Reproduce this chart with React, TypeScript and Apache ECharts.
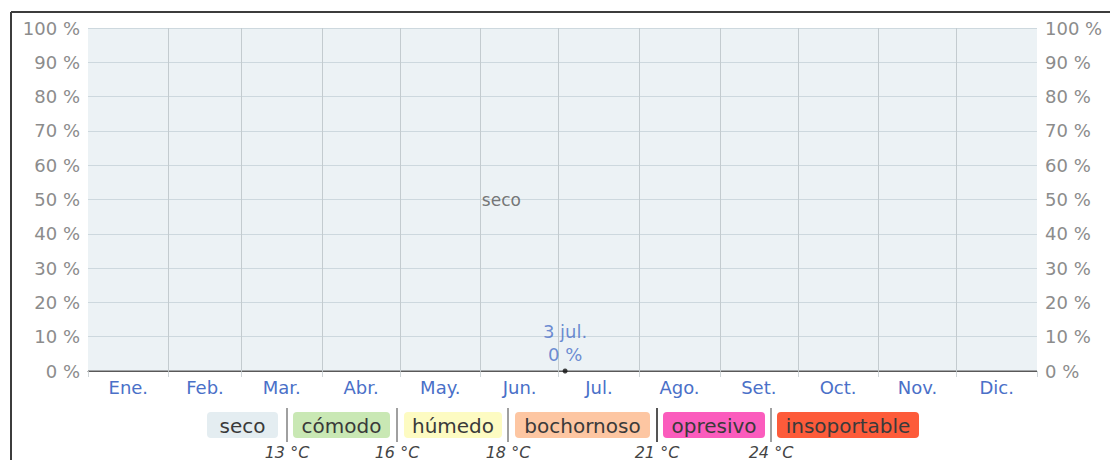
import React, { useEffect, useRef } from "react";
import * as echarts from "echarts";

// ---- data ----
const months = ["Ene.", "Feb.", "Mar.", "Abr.", "May.", "Jun.", "Jul.", "Ago.", "Set.", "Oct.", "Nov.", "Dic."];
const monthDays = [31, 28, 31, 30, 31, 30, 31, 31, 30, 31, 30, 31];
const sampleDays = [0, 365];
const secoShare = [100, 100];
const muggyShare = [0, 0];
const highlightDay = 183.5;
const highlightText = "3 jul.";
const highlightValue = 0;
const secoLabelDay = 159;
const yTicks = { min: 0, max: 100, interval: 10 };
const levels = ["seco", "cómodo", "húmedo", "bochornoso", "opresivo", "insoportable"];
const levelColors = ["#e4edf1", "#c9e8b4", "#fdfbc2", "#fdc6a2", "#fb5cbd", "#fd5b3a"];
const thresholds = ["13 °C", "16 °C", "18 °C", "21 °C", "24 °C"];

// ---- layout (not data) ----
const boxSpans = [[207, 278], [293, 390], [404, 502], [515, 650], [663, 765], [777, 919]];
const sepX = [287, 397, 508, 657, 771];
const sepColors = ["#a0a0a0", "#a0a0a0", "#a0a0a0", "#555", "#a0a0a0"];
const FONT = "DejaVu Sans";

export default function App() {
  const ref = useRef<HTMLDivElement>(null);
  useEffect(() => {
    if (!ref.current) return;
    const chart = echarts.init(ref.current, null, { renderer: "svg" });

    const monthStarts: number[] = [];
    let acc = 0;
    monthDays.forEach((d) => { monthStarts.push(acc); acc += d; });
    monthStarts.push(acc);
    const midDays = monthDays.map((d, i) => monthStarts[i] + d / 2);

    const legend: any[] = [];
    levels.forEach((name, i) => {
      const [x0, x1] = boxSpans[i];
      legend.push({
        type: "rect",
        shape: { x: x0, y: 412, width: x1 - x0, height: 26, r: 4 },
        style: { fill: levelColors[i] },
        silent: true,
      });
      legend.push({
        type: "text",
        x: (x0 + x1) / 2,
        y: 426,
        style: {
          text: name, fill: "#3a3a3a", font: `20px "${FONT}"`,
          align: "center", verticalAlign: "middle",
        },
        silent: true,
      });
    });
    thresholds.forEach((t, i) => {
      legend.push({
        type: "line",
        shape: { x1: sepX[i], y1: 408, x2: sepX[i], y2: 442 },
        style: { stroke: sepColors[i], lineWidth: 2 },
        silent: true,
      });
      legend.push({
        type: "text",
        x: sepX[i],
        y: 452,
        style: {
          text: t, fill: "#444", font: `italic 16px "${FONT}"`,
          align: "center", verticalAlign: "middle",
        },
        silent: true,
      });
    });

    const yAxisBase = (pos: "left" | "right", split: boolean) => ({
      type: "value",
      position: pos,
      min: yTicks.min,
      max: yTicks.max,
      interval: yTicks.interval,
      axisLine: { show: false },
      axisTick: { show: false },
      axisLabel: {
        formatter: "{value} %", color: "#8c8c8c", fontSize: 18, fontFamily: FONT, margin: 8,
      },
      splitLine: { show: split, lineStyle: { color: "#d0d8dc", width: 1 } },
    });

    chart.setOption({
      animation: false,
      textStyle: { fontFamily: FONT },
      grid: { left: 88, right: 73, top: 28, bottom: 89, containLabel: false },
      xAxis: {
        type: "value",
        min: 0,
        max: 365,
        axisLine: { show: true, onZero: false, lineStyle: { color: "#5a5a5a", width: 1 } },
        axisTick: { show: true, customValues: monthStarts, length: 6, lineStyle: { color: "#d0d6d9" } },
        axisLabel: {
          customValues: midDays,
          formatter: (v: number) => {
            const i = midDays.findIndex((m) => Math.abs(m - v) < 0.01);
            return i >= 0 ? months[i] : "";
          },
          color: "#4a70c8", fontSize: 18, fontFamily: FONT, margin: 7,
        },
        splitLine: { show: false },
      },
      yAxis: [yAxisBase("left", true), yAxisBase("right", false)],
      series: [
        {
          name: "seco",
          type: "line",
          stack: "share",
          data: sampleDays.map((d, i) => [d, secoShare[i]]),
          symbol: "none",
          lineStyle: { width: 0 },
          areaStyle: { color: "rgba(200,217,225,0.48)", origin: "start" },
          silent: true,
          markLine: {
            silent: true,
            symbol: "none",
            label: { show: false },
            lineStyle: { color: "#c3cbcf", width: 1, type: "solid" },
            data: monthStarts.slice(1, 12).map((d) => ({ xAxis: d })),
          },
          z: 2,
        },
        {
          name: "muggy",
          type: "line",
          data: sampleDays.map((d, i) => [d, muggyShare[i]]),
          symbol: "none",
          lineStyle: { width: 1, color: "#5a5a5a" },
          silent: true,
          z: 3,
        },
        {
          name: "secoLabel",
          type: "scatter",
          data: [[secoLabelDay, 50]],
          symbolSize: 0,
          label: {
            show: true, position: "inside", formatter: "seco",
            color: "#555", fontSize: 17, fontFamily: FONT,
          },
          silent: true,
          z: 4,
        },
        {
          name: "highlight",
          type: "scatter",
          data: [[highlightDay, highlightValue]],
          symbolSize: 5,
          itemStyle: { color: "#111" },
          label: {
            show: true, position: "top", distance: 3,
            formatter: `${highlightText}\n${highlightValue} %`,
            color: "#4a70c8", fontSize: 18, lineHeight: 23, fontFamily: FONT, align: "center",
          },
          silent: true,
          z: 5,
        },
      ],
      graphic: [
        { type: "line", shape: { x1: 11, y1: 12, x2: 1110, y2: 12 }, style: { stroke: "#3c3c3c", lineWidth: 2 }, silent: true },
        { type: "line", shape: { x1: 11, y1: 12, x2: 11, y2: 460 }, style: { stroke: "#3c3c3c", lineWidth: 2 }, silent: true },
        ...legend,
      ],
    });
    return () => chart.dispose();
  }, []);
  return (
    <div
      ref={ref}
      style={{ position: "absolute", left: 0, top: 0, width: 1110, height: 460, background: "#fff" }}
    />
  );
}
